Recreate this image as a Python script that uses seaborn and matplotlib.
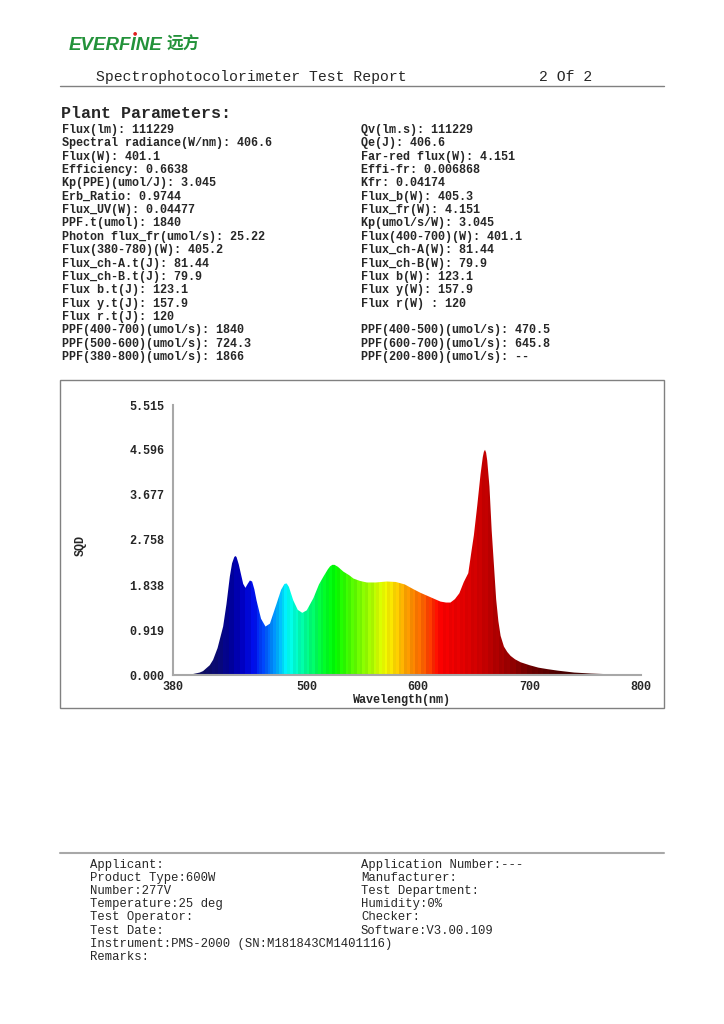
import numpy as np
import pandas as pd
import matplotlib
matplotlib.use('Agg')
import matplotlib.pyplot as plt
from matplotlib.colors import LinearSegmentedColormap
from matplotlib.patches import Rectangle
from matplotlib.lines import Line2D
import seaborn as sns

# spectrum (wavelength nm -> SQD)
wavelength = [380, 390, 398, 404, 407, 413, 416, 420, 425, 428, 431, 433, 435, 436, 437, 439,
              441, 443, 445, 447, 449, 451, 453, 455, 459, 463, 467, 473, 477, 480, 482, 484,
              488, 492, 496, 500, 506, 511, 515, 519, 521, 523, 525, 528, 530, 533, 538, 542,
              548, 554, 562, 572, 580, 588, 596, 602, 608, 614, 620, 625, 629, 633, 637, 641,
              645, 648, 650, 653, 656, 658, 659, 660, 661, 662, 664, 666, 668, 670, 672, 674,
              677, 680, 683, 687, 692, 700, 708, 716, 725, 740, 755, 770, 785, 800]
sqd = [0.0, 0.005, 0.02, 0.05, 0.08, 0.2, 0.31, 0.55, 0.99, 1.45, 2.01, 2.28, 2.41, 2.43, 2.41, 2.26,
       2.06, 1.86, 1.78, 1.86, 1.93, 1.91, 1.75, 1.52, 1.15, 0.99, 1.05, 1.46, 1.74, 1.86, 1.87, 1.80,
       1.52, 1.33, 1.27, 1.32, 1.57, 1.85, 2.01, 2.16, 2.22, 2.25, 2.25, 2.21, 2.17, 2.11, 2.04, 1.97,
       1.92, 1.89, 1.89, 1.91, 1.90, 1.85, 1.75, 1.68, 1.62, 1.56, 1.50, 1.48, 1.48, 1.55, 1.67, 1.90,
       2.08, 2.55, 2.85, 3.45, 4.10, 4.45, 4.56, 4.60, 4.54, 4.38, 3.85, 2.95, 2.25, 1.55, 1.10, 0.80,
       0.58, 0.47, 0.39, 0.32, 0.26, 0.20, 0.15, 0.12, 0.09, 0.05, 0.03, 0.017, 0.008, 0.003]

y_ticks = [0.000, 0.919, 1.838, 2.758, 3.677, 4.596, 5.515]
x_ticks = [380, 500, 600, 700, 800]

left_params = [
    'Flux(lm): 111229',
    'Spectral radiance(W/nm): 406.6',
    'Flux(W): 401.1',
    'Efficiency: 0.6638',
    'Kp(PPE)(umol/J): 3.045',
    'Erb_Ratio: 0.9744',
    'Flux_UV(W): 0.04477',
    'PPF.t(umol): 1840',
    'Photon flux_fr(umol/s): 25.22',
    'Flux(380-780)(W): 405.2',
    'Flux_ch-A.t(J): 81.44',
    'Flux_ch-B.t(J): 79.9',
    'Flux b.t(J): 123.1',
    'Flux y.t(J): 157.9',
    'Flux r.t(J): 120',
    'PPF(400-700)(umol/s): 1840',
    'PPF(500-600)(umol/s): 724.3',
    'PPF(380-800)(umol/s): 1866',
]
right_params = [
    'Qv(lm.s): 111229',
    'Qe(J): 406.6',
    'Far-red flux(W): 4.151',
    'Effi-fr: 0.006868',
    'Kfr: 0.04174',
    'Flux_b(W): 405.3',
    'Flux_fr(W): 4.151',
    'Kp(umol/s/W): 3.045',
    'Flux(400-700)(W): 401.1',
    'Flux_ch-A(W): 81.44',
    'Flux_ch-B(W): 79.9',
    'Flux b(W): 123.1',
    'Flux y(W): 157.9',
    'Flux r(W) : 120',
    '',
    'PPF(400-500)(umol/s): 470.5',
    'PPF(600-700)(umol/s): 645.8',
    'PPF(200-800)(umol/s): --',
]
footer_left = ['Applicant:', 'Product Type:600W', 'Number:277V', 'Temperature:25 deg',
               'Test Operator:', 'Test Date:', 'Instrument:PMS-2000 (SN:M181843CM1401116)', 'Remarks:']
footer_right = ['Application Number:---', 'Manufacturer:', 'Test Department:', 'Humidity:0%',
                'Checker:', 'Software:V3.00.109']

sns.set_style('white')
plt.rcParams['font.family'] = ['Liberation Mono', 'DejaVu Sans']

W, H = 724, 1024
fig = plt.figure(figsize=(7.24, 10.24), dpi=100)


def fx(x):
    return x / W


def fy(y):
    return 1 - y / H


# logo
fig.text(fx(69), fy(46), 'EVERFINE', family='Liberation Sans', weight='bold', style='italic',
         fontsize=13.5, color='#23923a', va='center', ha='left')
fig.text(fx(167), fy(45), '远方', family='Noto Sans CJK SC', weight='bold', fontsize=12,
         color='#23923a', va='center', ha='left')
fig.text(fx(135), fy(33), '●', family='DejaVu Sans', fontsize=3.5, color='#e02020',
         va='center', ha='center')

# header
fig.text(fx(96), fy(77), 'Spectrophotocolorimeter Test Report', fontsize=10.6, va='center')
fig.text(fx(539), fy(77), '2 Of 2', fontsize=10.6, va='center')
fig.add_artist(Line2D([fx(60), fx(664)], [fy(86), fy(86)], color='#808080', lw=1))

fig.text(fx(61), fy(114), 'Plant Parameters:', fontsize=12, weight='bold', va='center')
for i, s in enumerate(left_params):
    fig.text(fx(62), fy(130 + i * 13.35), s, fontsize=8.5, weight='bold', va='center')
for i, s in enumerate(right_params):
    fig.text(fx(361), fy(130 + i * 13.35), s, fontsize=8.5, weight='bold', va='center')

# chart frame
fig.add_artist(Rectangle((fx(60), fy(708)), fx(604), (708 - 380) / H, transform=fig.transFigure,
                         fill=False, edgecolor='#808080', lw=1))

ax = fig.add_axes([fx(173), fy(675), fx(468), 270 / H])
df = pd.DataFrame({'Wavelength': wavelength, 'SQD': sqd})
sns.lineplot(data=df, x='Wavelength', y='SQD', ax=ax, lw=0, color='k')
fill = ax.fill_between(df['Wavelength'], df['SQD'], 0, color='none', lw=0)

# banded spectral colours, clipped to the curve
stops = [(380, '#101040'), (400, '#10105a'), (420, '#0a0a78'), (432, '#0000a0'),
         (442, '#0000c8'), (452, '#0010f0'), (462, '#0050ff'), (472, '#00a0ff'),
         (482, '#00ffff'), (492, '#00ffc0'), (502, '#00ff80'), (515, '#00ff30'),
         (525, '#00ff00'), (540, '#50ff00'), (555, '#a0ff00'), (570, '#f0ff00'),
         (578, '#ffe000'), (590, '#ffa000'), (605, '#ff6000'), (620, '#ff0000'),
         (640, '#e80000'), (660, '#c80000'), (680, '#a00000'), (700, '#700000'),
         (730, '#4a0000'), (800, '#300000')]
cmap = LinearSegmentedColormap.from_list(
    'spec', [((w - 380) / 420, c) for w, c in stops])
centers = np.arange(381.25, 800, 2.5)
cols = np.array([cmap((c - 380) / 420)[:3] for c in centers])
shade = np.where(np.arange(len(centers)) % 2 == 0, 1.0, 0.955)
img = (cols * shade[:, None])[None, :, :]
im = ax.imshow(img, extent=[380, 800, 0, 5.515], aspect='auto', interpolation='nearest', zorder=1)
im.set_clip_path(fill.get_paths()[0], transform=ax.transData)

ax.set_xlim(380, 800)
ax.set_ylim(0, 5.515)
ax.set_xticks(x_ticks)
ax.set_xticks([400], minor=True)
ax.set_yticks(y_ticks)
ax.set_yticklabels([f'{v:.3f}' for v in y_ticks])
for side in ['top', 'right']:
    ax.spines[side].set_visible(False)
for side in ['left', 'bottom']:
    ax.spines[side].set_color('#a8a8a8')
    ax.spines[side].set_linewidth(1.5)
ax.tick_params(axis='both', which='both', direction='out', length=4, width=1, color='#a8a8a8',
               labelsize=8.5, pad=2)
ax.tick_params(axis='x', which='both', pad=0.5)
ax.tick_params(axis='x', which='minor', length=3)
for lab in ax.get_xticklabels() + ax.get_yticklabels():
    lab.set_fontweight('bold')
ax.set_xlabel('Wavelength(nm)', fontsize=8.5, weight='bold')
ax.set_ylabel('SQD', fontsize=8.5, weight='bold')
ax.xaxis.set_label_coords(229 / 468, -19.5 / 270)
ax.yaxis.set_label_coords(-86 / 468, 130 / 270)

# footer
fig.add_artist(Line2D([fx(60), fx(664)], [fy(853), fy(853)], color='#a8a8a8', lw=1.5))
for i, s in enumerate(footer_left):
    fig.text(fx(90), fy(865 + i * 13.1), s, fontsize=8.8, va='center')
for i, s in enumerate(footer_right):
    fig.text(fx(361), fy(865 + i * 13.1), s, fontsize=8.8, va='center')

fig.savefig('out.png', dpi=100)
